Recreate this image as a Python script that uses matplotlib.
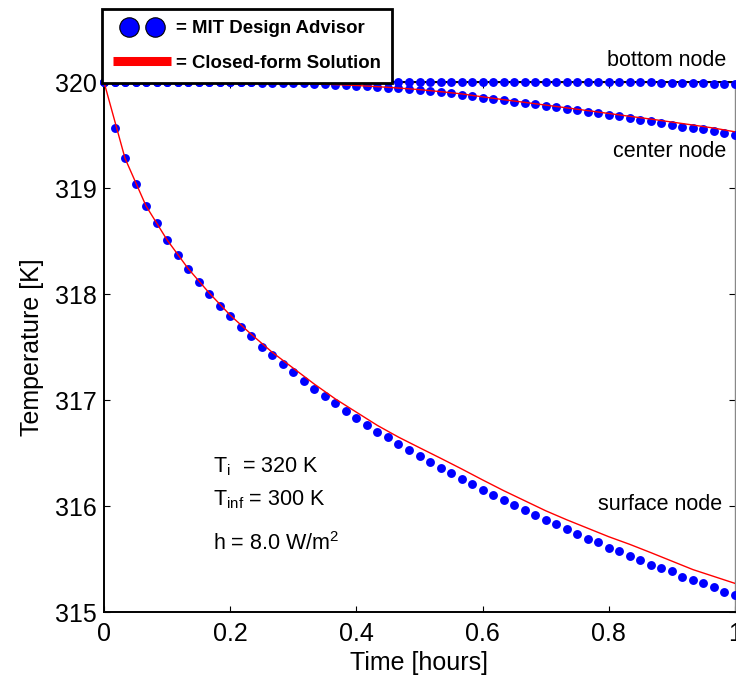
import numpy as np
import matplotlib
matplotlib.use("Agg")
import matplotlib.pyplot as plt
from matplotlib.lines import Line2D
from matplotlib.legend_handler import HandlerLine2D

plt.rcParams["font.family"] = ["Liberation Sans", "DejaVu Sans"]
plt.rcParams["mathtext.fontset"] = "custom"
plt.rcParams["mathtext.rm"] = "Liberation Sans"
plt.rcParams["mathtext.it"] = "Liberation Sans:italic"
plt.rcParams["mathtext.bf"] = "Liberation Sans:bold"

# Simulation output, one sample per minute over one hour
t_minutes = np.arange(61)
surface_node = [
    320.00, 319.57, 319.28, 319.04, 318.83, 318.67, 318.51, 318.37, 318.24, 318.11,
    318.00, 317.89, 317.79, 317.69, 317.60, 317.50, 317.42, 317.34, 317.26, 317.18,
    317.10, 317.035, 316.975, 316.894, 316.827, 316.764, 316.698, 316.651, 316.588, 316.525,
    316.476, 316.412, 316.361, 316.314, 316.252, 316.204, 316.154, 316.107, 316.060, 316.009,
    315.962, 315.912, 315.865, 315.833, 315.786, 315.736, 315.689, 315.658, 315.607, 315.575,
    315.525, 315.494, 315.446, 315.415, 315.384, 315.333, 315.302, 315.271, 315.239, 315.192,
    315.158,
]
center_node = [
    320.00, 320.00, 320.00, 320.00, 320.00, 320.00, 320.00, 320.00, 320.00, 320.00,
    320.00, 320.00, 320.00, 319.998, 319.997, 319.995, 319.993, 319.991, 319.989, 319.986,
    319.983, 319.979, 319.975, 319.971, 319.966, 319.961, 319.955, 319.948, 319.941, 319.933,
    319.925, 319.915, 319.905, 319.894, 319.882, 319.868, 319.853, 319.840, 319.827, 319.815,
    319.800, 319.790, 319.772, 319.760, 319.745, 319.735, 319.720, 319.708, 319.692, 319.675,
    319.662, 319.645, 319.628, 319.613, 319.596, 319.580, 319.566, 319.552, 319.535, 319.518,
    319.497,
]
bottom_node = [
    320.00, 320.00, 320.00, 320.00, 320.00, 320.00, 320.00, 320.00, 320.00, 320.00,
    320.00, 320.00, 320.00, 320.00, 320.00, 320.00, 320.00, 320.00, 320.00, 320.00,
    320.00, 320.00, 320.00, 320.00, 320.00, 320.00, 320.00, 320.00, 320.00, 320.00,
    320.00, 320.00, 320.00, 320.00, 320.00, 320.00, 320.00, 320.00, 320.00, 320.00,
    320.00, 320.00, 320.00, 320.00, 320.00, 320.00, 320.00, 320.00, 320.00, 320.00,
    320.00, 319.997, 319.996, 319.995, 319.994, 319.992, 319.990, 319.986, 319.985, 319.984,
    319.982,
]

# Closed-form solution, sampled every two minutes
t_exact_minutes = np.arange(0, 61, 2)
surface_exact = [
    320.00, 319.28, 318.83, 318.51, 318.24, 318.01, 317.80, 317.62, 317.45, 317.30,
    317.15, 317.01, 316.885, 316.76, 316.65, 316.55, 316.451, 316.35, 316.246, 316.145,
    316.05, 315.955, 315.87, 315.79, 315.71, 315.638, 315.56, 315.48, 315.40, 315.335,
    315.27,
]
center_exact = [
    320.00, 320.00, 320.00, 320.00, 320.00, 320.00, 320.00, 319.998, 319.993, 319.989,
    319.983, 319.975, 319.967, 319.956, 319.943, 319.928, 319.909, 319.888, 319.86, 319.833,
    319.808, 319.782, 319.756, 319.73, 319.703, 319.676, 319.65, 319.622, 319.594, 319.565,
    319.53,
]
bottom_exact = [320.00] * 31

x_ticks = [0, 0.2, 0.4, 0.6, 0.8, 1]
x_tick_labels = ["0", "0.2", "0.4", "0.6", "0.8", "1"]
y_ticks = [315, 316, 317, 318, 319, 320]

t_hours = t_minutes / 60.0
t_exact_hours = t_exact_minutes / 60.0

fig = plt.figure(figsize=(7.36, 6.85), dpi=100)
ax = fig.add_axes([104 / 736, 1 - 612 / 685, 631 / 736, 530 / 685])

dot_style = dict(ls="none", marker="o", ms=6.4, mfc="blue", mec="blue", mew=0,
                 clip_on=False, zorder=3)
for series in (surface_node, center_node, bottom_node):
    ax.plot(t_hours, series, **dot_style)

ax.plot(t_exact_hours, surface_exact, color="red", lw=1.0, zorder=4)
ax.plot(t_exact_hours, center_exact, color="red", lw=1.0, zorder=4)
# the bottom-node solution runs along the top of the frame, under the spine
ax.plot(t_exact_hours, bottom_exact, color="red", lw=1.0, zorder=2)

ax.set_xlim(0, 1)
ax.set_ylim(315, 320)
ax.set_xticks(x_ticks)
ax.set_xticklabels(x_tick_labels)
ax.set_yticks(y_ticks)
ax.tick_params(direction="in", length=4.5, width=0.8, top=True, right=True,
               labelsize=18, colors="black")
ax.tick_params(axis="x", pad=7)
ax.tick_params(axis="y", pad=5)
for side in ("left", "bottom", "top"):
    ax.spines[side].set_linewidth(1.4)
    ax.spines[side].set_zorder(2.5)
ax.spines["right"].set_linewidth(1.0)
ax.spines["right"].set_color("#888888")

ax.set_xlabel("Time [hours]", fontsize=18, labelpad=4)
ax.set_ylabel("Temperature [K]", fontsize=18, labelpad=8)

# Node labels
ax.text(0.986, 320.20, "bottom node", ha="right", va="center", fontsize=15.5, clip_on=False)
ax.text(0.986, 319.34, "center node", ha="right", va="center", fontsize=15.5)
ax.text(0.98, 316.01, "surface node", ha="right", va="center", fontsize=15.5)

# Boundary conditions
ax.text(0.173, 316.37, r"T$_{\mathrm{i}}$  = 320 K", ha="left", va="center", fontsize=15.5)
ax.text(0.173, 316.06, r"T$_{\mathrm{inf}}$ = 300 K", ha="left", va="center", fontsize=15.5)
ax.text(0.173, 315.65, r"h = 8.0 W/m$^{2}$", ha="left", va="center", fontsize=15.5)

marker_handle = Line2D([], [], ls="none", marker="o", ms=14, mfc="blue", mec="black", mew=0.8)
line_handle = Line2D([], [], color="red", lw=6.5, solid_capstyle="butt")
leg = fig.legend([marker_handle, line_handle],
                 ["= MIT Design Advisor", "= Closed-form Solution"],
                 handler_map={marker_handle: HandlerLine2D(numpoints=2, marker_pad=0.85)},
                 loc="upper left", bbox_to_anchor=(102 / 736, 1 - 9 / 685),
                 borderaxespad=0, handlelength=3.1, handletextpad=0.3,
                 labelspacing=0.95, borderpad=0.6, fancybox=False, framealpha=1,
                 edgecolor="black", prop=dict(weight="bold", size=13.4))
leg.get_frame().set_linewidth(2.0)

fig.savefig("out.png", dpi=100)
